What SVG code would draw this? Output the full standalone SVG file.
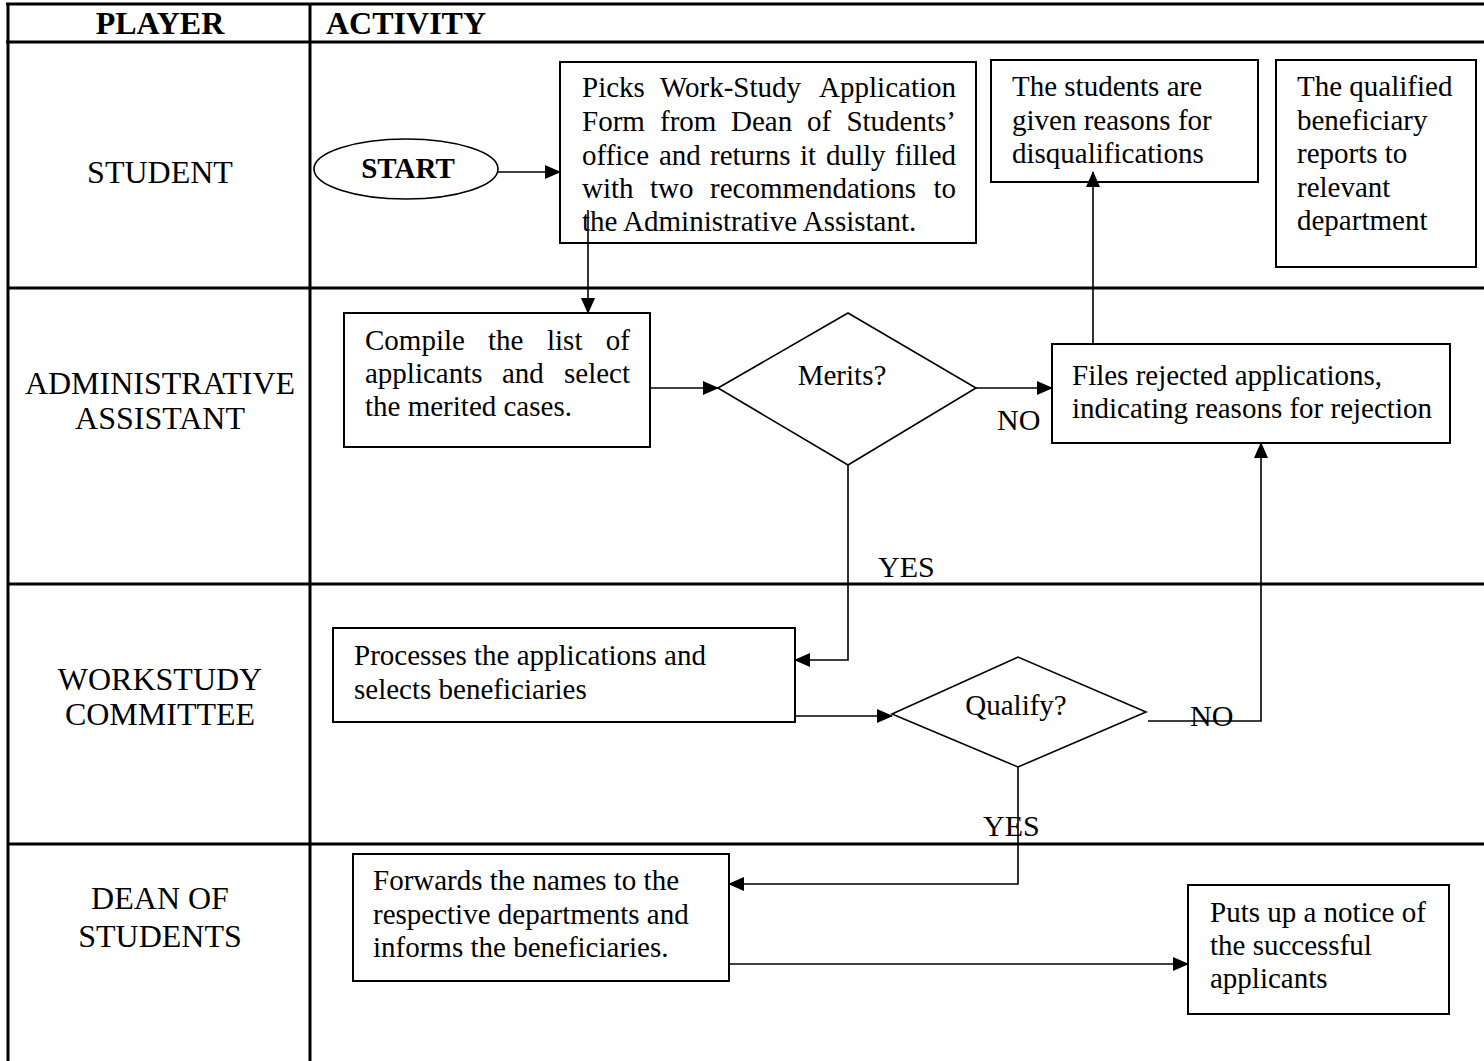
<svg xmlns="http://www.w3.org/2000/svg" width="1484" height="1061" viewBox="0 0 1484 1061">
<defs>
<marker id="ah" markerUnits="userSpaceOnUse" markerWidth="16" markerHeight="14" refX="15" refY="7" orient="auto">
<path d="M0,0 L16,7 L0,14 Z" fill="#000"/>
</marker>
<style>
.tbl{stroke:#000;stroke-width:3;fill:none}
.box{fill:#fff;stroke:#000;stroke-width:2}
.con{fill:none;stroke:#000;stroke-width:1.6}
.hd{font-family:"Liberation Serif",serif;font-weight:bold;font-size:32px;fill:#000}
.lane{font-family:"Liberation Serif",serif;font-size:32px;fill:#000;text-anchor:middle}
.tx{font-family:"Liberation Serif",serif;font-size:29px;fill:#000}
.lbl{font-family:"Liberation Serif",serif;font-size:30px;fill:#000}
</style>
</defs>
<rect width="1484" height="1061" fill="#fff"/>
<g id="table">
<line class="tbl" x1="6" y1="4" x2="1484" y2="4"/>
<line class="tbl" x1="6" y1="42" x2="1484" y2="42"/>
<line class="tbl" x1="8" y1="4" x2="8" y2="1061"/>
<line class="tbl" x1="310" y1="4" x2="310" y2="1061"/>
<line class="tbl" x1="8" y1="288" x2="1484" y2="288"/>
<line class="tbl" x1="8" y1="584" x2="1484" y2="584"/>
<line class="tbl" x1="8" y1="844" x2="1484" y2="844"/>
<text class="hd" x="160" y="34" text-anchor="middle">PLAYER</text>
<text class="hd" x="326" y="34">ACTIVITY</text>
<text class="lane" x="160" y="183">STUDENT</text>
<text class="lane" x="160" y="394">ADMINISTRATIVE</text>
<text class="lane" x="160" y="429">ASSISTANT</text>
<text class="lane" x="160" y="690">WORKSTUDY</text>
<text class="lane" x="160" y="725">COMMITTEE</text>
<text class="lane" x="160" y="909">DEAN OF</text>
<text class="lane" x="160" y="947">STUDENTS</text>
</g>
<g id="start">
<ellipse cx="406" cy="169" rx="92" ry="30" fill="#fff" stroke="#000" stroke-width="1.6"/>
<text class="tx" x="408" y="178" text-anchor="middle" font-weight="bold" font-size="28">START</text>
</g>
<g id="picks">
<rect class="box" x="560" y="62" width="416" height="181"/>
<text class="tx" y="97"><tspan x="582">Picks</tspan><tspan x="660">Work-Study</tspan></text>
<text class="tx" x="956" y="97" text-anchor="end">Application</text>
<text class="tx" y="131"><tspan x="582">Form</tspan><tspan x="660">from</tspan><tspan x="731">Dean</tspan><tspan x="807">of</tspan></text>
<text class="tx" x="956" y="131" text-anchor="end">Students’</text>
<text class="tx" y="165"><tspan x="582">office</tspan><tspan x="659">and</tspan><tspan x="710">returns</tspan><tspan x="800">it</tspan><tspan x="826">dully</tspan></text>
<text class="tx" x="956" y="165" text-anchor="end">filled</text>
<text class="tx" y="198"><tspan x="582">with</tspan><tspan x="650">two</tspan><tspan x="710">recommendations</tspan></text>
<text class="tx" x="956" y="198" text-anchor="end">to</text>
<text class="tx" x="582" y="231">the Administrative Assistant.</text>
</g>
<g id="reasons">
<rect class="box" x="991" y="60" width="267" height="122"/>
<text class="tx" x="1012" y="96">The students are</text>
<text class="tx" x="1012" y="130">given reasons for</text>
<text class="tx" x="1012" y="163">disqualifications</text>
</g>
<g id="reports">
<rect class="box" x="1276" y="60" width="200" height="207"/>
<text class="tx" x="1297" y="96">The qualified</text>
<text class="tx" x="1297" y="130">beneficiary</text>
<text class="tx" x="1297" y="163">reports to</text>
<text class="tx" x="1297" y="197">relevant</text>
<text class="tx" x="1297" y="230">department</text>
</g>
<g id="compile">
<rect class="box" x="344" y="313" width="306" height="134"/>
<text class="tx" y="350"><tspan x="365">Compile</tspan><tspan x="488">the</tspan><tspan x="547">list</tspan></text>
<text class="tx" x="630" y="350" text-anchor="end">of</text>
<text class="tx" y="383"><tspan x="365">applicants</tspan><tspan x="502">and</tspan></text>
<text class="tx" x="630" y="383" text-anchor="end">select</text>
<text class="tx" x="365" y="416">the merited cases.</text>
</g>
<g id="merits">
<polygon points="718,388 848,313 976,388 848,465" fill="#fff" stroke="#000" stroke-width="1.6"/>
<text class="tx" x="842" y="385" text-anchor="middle" font-size="31">Merits?</text>
</g>
<g id="files">
<rect class="box" x="1052" y="344" width="398" height="99"/>
<text class="tx" x="1072" y="385">Files rejected applications,</text>
<text class="tx" x="1072" y="418">indicating reasons for rejection</text>
</g>
<g id="processes">
<rect class="box" x="333" y="628" width="462" height="94"/>
<text class="tx" x="354" y="665">Processes the applications and</text>
<text class="tx" x="354" y="699">selects beneficiaries</text>
</g>
<g id="qualify">
<polygon points="892,714 1018,657 1146,712 1018,767" fill="#fff" stroke="#000" stroke-width="1.6"/>
<text class="tx" x="1016" y="715" text-anchor="middle" font-size="28">Qualify?</text>
</g>
<g id="forwards">
<rect class="box" x="353" y="854" width="376" height="127"/>
<text class="tx" x="373" y="890">Forwards the names to the</text>
<text class="tx" x="373" y="924">respective departments and</text>
<text class="tx" x="373" y="957">informs the beneficiaries.</text>
</g>
<g id="notice">
<rect class="box" x="1188" y="885" width="261" height="129"/>
<text class="tx" x="1210" y="922">Puts up a notice of</text>
<text class="tx" x="1210" y="955">the successful</text>
<text class="tx" x="1210" y="988">applicants</text>
</g>
<g id="connectors">
<line class="con" x1="498" y1="172" x2="560" y2="172" marker-end="url(#ah)"/>
<line class="con" x1="588" y1="210" x2="588" y2="313" marker-end="url(#ah)"/>
<line class="con" x1="650" y1="388" x2="718" y2="388" marker-end="url(#ah)"/>
<line class="con" x1="976" y1="388" x2="1052" y2="388" marker-end="url(#ah)"/>
<line class="con" x1="1093" y1="344" x2="1093" y2="172" marker-end="url(#ah)"/>
<polyline class="con" points="848,465 848,660 795,660" marker-end="url(#ah)"/>
<line class="con" x1="795" y1="716" x2="892" y2="716" marker-end="url(#ah)"/>
<polyline class="con" points="1148,721 1261,721 1261,443" marker-end="url(#ah)"/>
<polyline class="con" points="1018,767 1018,884 729,884" marker-end="url(#ah)"/>
<line class="con" x1="729" y1="964" x2="1188" y2="964" marker-end="url(#ah)"/>
<text class="lbl" x="997" y="430">NO</text>
<text class="lbl" x="878" y="577">YES</text>
<text class="lbl" x="1190" y="726">NO</text>
<text class="lbl" x="983" y="836">YES</text>
</g>
</svg>
